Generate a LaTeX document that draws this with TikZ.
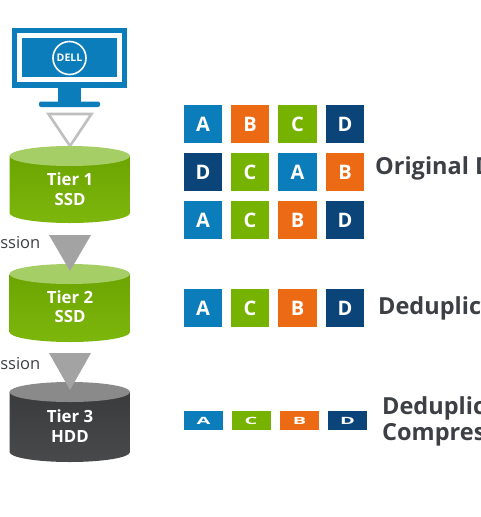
\documentclass[tikz,border=0pt]{standalone}
\usepackage{fontspec}
\setmainfont{Open Sans}
\definecolor{dblue}{HTML}{0B7DBB}
\definecolor{dorange}{HTML}{EC6A13}
\definecolor{dgreen}{HTML}{76B300}
\definecolor{dnavy}{HTML}{0A4478}
\definecolor{dtext}{HTML}{3C3F44}
\definecolor{lgreen}{HTML}{A6CE66}
\definecolor{dgrey}{HTML}{3F4042}
\definecolor{lgrey}{HTML}{8A8A8A}
\definecolor{trigrey}{HTML}{A3A3A3}
\newcommand{\mycyl}[4]{% y-top, y-bottom-centre, side colour, top colour
  \path[shade,top color=#3!92!black,bottom color=#3!95!white]
    (9.5,#1) -- (9.5,#2) arc[start angle=180,end angle=0,x radius=60.25,y radius=10] -- (130,#1) -- cycle;
  \fill[#4] (69.75,#1) ellipse[x radius=60.25,y radius=10];
}
\newcommand{\squash}[1]{\scalebox{1}[0.5]{#1}}
\tikzset{
  sq/.style={inner sep=0pt,outer sep=0pt,minimum width=38.5pt,minimum height=38.5pt,text=white,font=\fontsize{20}{20}\selectfont\bfseries},
  fl/.style={inner sep=0pt,outer sep=0pt,minimum width=39pt,minimum height=19.5pt,text=white,font=\fontsize{20}{20}\selectfont\bfseries},
  tier/.style={inner sep=0pt,text=white,font=\fontsize{16.8}{16.8}\selectfont\bfseries},
  lab/.style={inner sep=0pt,anchor=west,text=dtext,font=\fontsize{23.5}{23.5}\selectfont\bfseries},
  side/.style={inner sep=0pt,anchor=east,text=dtext,font=\fontsize{16.5}{16.5}\selectfont},
  A/.style={sq,fill=dblue},B/.style={sq,fill=dorange},C/.style={sq,fill=dgreen},D/.style={sq,fill=dnavy},
}
\begin{document}
\begin{tikzpicture}[x=1pt,y=-1pt]
\useasboundingbox (0,0) rectangle (480,517);
\clip (0,0) rectangle (480,517);
\fill[white] (0,0) rectangle (480,517);
% monitor
\fill[dblue] (12,28) rectangle (127,88);
\draw[white,line width=5pt] (19.5,35.5) rectangle (119.5,79.5);
\fill[dblue] (58,88) rectangle (81,102);
\fill[dblue,rounded corners=2pt] (39,101.5) rectangle (100,107);
\draw[white,line width=1.6pt] (69.5,58) circle[radius=16.5];
\node[inner sep=0pt,text=white,font=\fontsize{10.5}{10.5}\selectfont\bfseries] (logo) at (69.5,58) {DELL};
% tier 1 arrow
\draw[draw=black!25,fill=white,line width=2.6pt,line join=miter] (48.5,114) -- (91.5,114) -- (70,146) -- cycle;
% cylinders
\mycyl{156}{213}{dgreen}{lgreen}
\mycyl{274}{332}{dgreen}{lgreen}
\mycyl{392}{452}{dgrey}{lgrey}
% grey triangles
\fill[trigrey] (49,235) -- (91,235) -- (70,271) -- cycle;
\fill[trigrey] (49,353) -- (91,353) -- (70,390) -- cycle;
% tier labels
\node[tier] (t1) at (70,179) {Tier 1};
\node[tier] (s1) at (70,199) {SSD};
\node[tier] (t2) at (70,297) {Tier 2};
\node[tier] (s2) at (70,316.5) {SSD};
\node[tier] (t3) at (70,416) {Tier 3};
\node[tier] (h3) at (70,436) {HDD};
\node[side] (c1) at (40.5,243) {ssion};
\node[side] (c2) at (40.5,364) {ssion};
% blocks
\node[A] (a1) at (203,124) {A};
\node[B] (b1) at (250,124) {B};
\node[C] (c1b) at (297.5,124) {C};
\node[D] (d1) at (345,124) {D};
\node[D] (d2) at (203,172) {D};
\node[C] (c2b) at (250,172) {C};
\node[A] (a2) at (297.5,172) {A};
\node[B] (b2) at (345,172) {B};
\node[A] (a3) at (203,220) {A};
\node[C] (c3) at (250,220) {C};
\node[B] (b3) at (297.5,220) {B};
\node[D] (d3) at (345,220) {D};
\node[A] (a4) at (203,308) {A};
\node[C] (c4) at (250,308) {C};
\node[B] (b4) at (297.5,308) {B};
\node[D] (d4) at (345,308) {D};
\node[fl,fill=dblue] (a5) at (203.5,420.5) {\squash{A}};
\node[fl,fill=dgreen] (c5) at (251,420.5) {\squash{C}};
\node[fl,fill=dorange] (b5) at (299.5,420.5) {\squash{B}};
\node[fl,fill=dnavy] (d5) at (347.5,420.5) {\squash{D}};
% right labels
\node[lab] (l1) at (375,168) {Original D};
\node[lab] (l2) at (378,308) {Deduplic};
\node[lab] (l3) at (382,408) {Deduplic};
\node[lab] (l4) at (382,435) {Compres};
\end{tikzpicture}
\end{document}
